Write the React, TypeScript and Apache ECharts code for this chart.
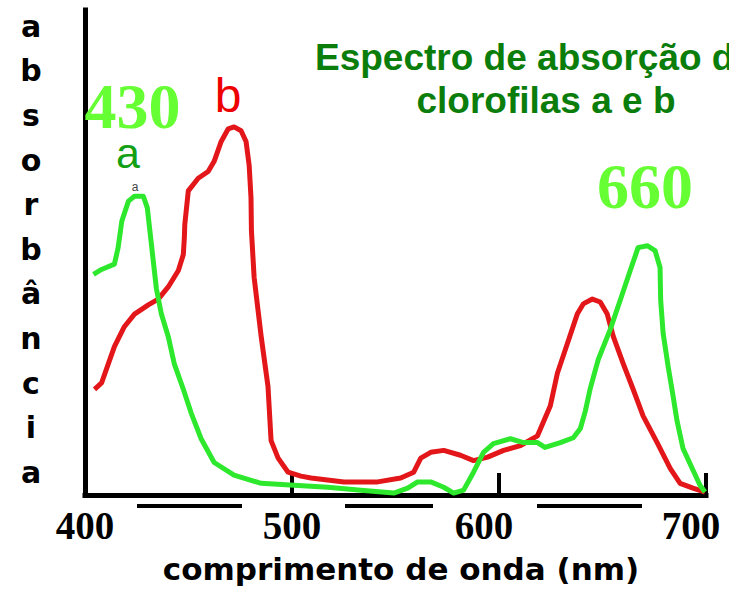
import { useEffect, useRef } from "react";
import * as echarts from "echarts";

// x axis ticks (nm)
const xTicks = [400, 500, 600, 700];

// Chlorophyll a (green) – wavelength (nm) and relative absorbance (0–100)
const chlA_nm = [
  404.1, 408.0, 414.2, 416.0, 417.8, 421.0, 423.9, 428.2, 430.1, 432.0, 434.5,
  436.9, 440.2, 443.1, 447.5, 451.3, 456.1, 462.4, 472.0, 485.1, 501.0, 517.3,
  533.3, 549.2, 555.9, 560.7, 567.0, 573.3, 578.1, 582.9, 587.7, 592.5, 597.3,
  605.5, 611.8, 618.6, 622.2, 629.6, 635.9, 639.3, 641.7, 644.1, 648.0, 653.7,
  658.6, 663.4, 667.2, 671.6, 675.4, 677.8, 678.1, 679.3, 681.7, 684.1, 686.0,
  688.9, 693.3, 697.1, 699.5,
];
const chlA_abs = [
  45.5, 46.5, 47.6, 51.0, 56.5, 60.6, 61.6, 61.6, 59.2, 52.0, 42.5,
  37.3, 32.7, 27.1, 21.8, 16.9, 11.6, 6.7, 4.1, 2.4, 2.0, 1.6,
  1.0, 0.4, 1.4, 2.7, 2.7, 1.6, 0.4, 1.0, 4.7, 8.8, 10.6,
  11.6, 10.8, 10.8, 9.8, 10.8, 11.8, 13.7, 17.3, 22.0, 28.0, 34.1,
  40.2, 46.3, 51.0, 51.4, 50.4, 46.9, 40.2, 33.3, 26.5, 20.4, 15.3,
  9.6, 5.5, 2.0, 0.6,
];

// Chlorophyll b (red)
const chlB_nm = [
  404.6, 408.0, 411.3, 414.2, 419.0, 423.9, 430.6, 435.4, 440.2, 445.1, 447.5,
  448.0, 448.2, 449.9, 454.7, 459.5, 462.4, 465.8, 469.2, 472.0, 475.4, 477.8,
  479.3, 480.2, 480.4, 481.7, 485.1, 488.4, 489.9, 493.3, 498.1, 504.3, 509.2,
  525.1, 541.4, 552.5, 558.8, 562.2, 567.0, 573.3, 581.4, 587.7, 594.5, 602.2,
  610.4, 618.6, 624.8, 628.2, 633.0, 637.8, 640.7, 645.1, 648.9, 652.3, 655.2,
  660.0, 664.8, 669.6, 676.4, 682.7, 687.5, 693.7, 699.5,
];
const chlB_abs = [
  21.8, 23.1, 27.1, 30.6, 34.7, 37.3, 39.2, 40.4, 42.9, 46.3, 49.6,
  53.1, 55.7, 62.7, 65.3, 66.7, 68.8, 72.9, 75.5, 75.9, 75.1, 72.9,
  68.0, 61.2, 54.5, 44.9, 32.7, 22.4, 11.2, 7.6, 4.7, 3.9, 3.5,
  2.7, 2.7, 3.5, 4.7, 7.6, 8.8, 9.2, 8.2, 7.1, 7.8, 9.2,
  10.2, 12.2, 18.4, 25.1, 31.2, 37.3, 39.4, 40.4, 39.8, 37.3, 32.7,
  27.1, 21.8, 16.3, 10.8, 5.5, 2.4, 1.4, 0.6,
];

const titleLines = ["Espectro de absorção d", "clorofilas a e b"];
const yAxisName = "absorbância";
const xAxisName = "comprimento de onda (nm)";
const peakLabels = ["430", "660"];
const curveLabels = ["a", "b"];

const GREEN = "#2ee82e";
const RED = "#e3161a";

export default function App() {
  const ref = useRef<HTMLDivElement>(null);

  useEffect(() => {
    const chart = echarts.init(ref.current!, null, { renderer: "svg" });

    const dataA = chlA_nm.map((x, i) => [x, chlA_abs[i]]);
    const dataB = chlB_nm.map((x, i) => [x, chlB_abs[i]]);

    const txt = (
      text: string,
      x: number,
      y: number,
      s: Record<string, any>,
      extra: Record<string, any> = {}
    ) => ({
      type: "text",
      x,
      y,
      z: 10,
      ...extra,
      style: {
        text,
        align: "center",
        textAlign: "center",
        verticalAlign: "middle",
        textVerticalAlign: "middle",
        ...s,
      },
    });

    const bars = [
      [137, 242],
      [345, 433],
      [537, 642],
    ];

    chart.setOption({
      animation: false,
      backgroundColor: "#ffffff",
      grid: { left: 85, right: 23, top: 10, bottom: 89 },
      xAxis: {
        type: "value",
        min: xTicks[0],
        max: xTicks[xTicks.length - 1],
        interval: 100,
        name: xAxisName,
        nameLocation: "middle",
        nameGap: 58,
        nameTextStyle: {
          fontFamily: "DejaVu Sans",
          fontWeight: "bold",
          fontSize: 31,
          color: "#000",
          padding: [0, 0, 0, 11],
        },
        axisLine: {
          show: true,
          lineStyle: { color: "#000", width: 5, cap: "square" },
        },
        axisTick: {
          show: true,
          inside: true,
          length: 22,
          lineStyle: { color: "#000", width: 4 },
        },
        splitLine: { show: false },
        axisLabel: {
          margin: 11,
          formatter: (v: number) =>
            v >= 600 ? `{s|${v}}` : `{n|${v}}`,
          rich: {
            n: {
              fontFamily: "Liberation Serif",
              fontWeight: "bold",
              fontSize: 39,
              color: "#000",
            },
            s: {
              fontFamily: "Liberation Serif",
              fontWeight: "bold",
              fontSize: 39,
              color: "#000",
              padding: [0, 30, 0, 0],
            },
          },
        },
      },
      yAxis: {
        type: "value",
        min: 0,
        max: 100,
        axisLine: {
          show: true,
          lineStyle: { color: "#000", width: 5, cap: "square" },
        },
        axisTick: { show: false },
        axisLabel: { show: false },
        splitLine: { show: false },
      },
      series: [
        {
          type: "line",
          data: dataB,
          showSymbol: false,
          symbol: "none",
          smooth: false,
          lineStyle: { color: RED, width: 5, join: "round" },
          z: 2,
        },
        {
          type: "line",
          data: dataA,
          showSymbol: false,
          symbol: "none",
          smooth: false,
          lineStyle: { color: GREEN, width: 5, join: "round" },
          z: 3,
        },
      ],
      graphic: [
        // vertical y-axis name
        txt(
          yAxisName.split("").join("\n"),
          31,
          4,
          {
            fontFamily: "DejaVu Sans",
            fontWeight: "bold",
            fontSize: 30,
            lineHeight: 44.6,
            fill: "#000",
            verticalAlign: "top",
            textVerticalAlign: "top",
          }
        ),
        // title
        txt(titleLines[0], 315, 57, {
          fontFamily: "Liberation Sans",
          fontWeight: "bold",
          fontSize: 37,
          fill: "#0b7d0b",
          align: "left",
          textAlign: "left",
        }),
        txt(titleLines[1], 546, 100, {
          fontFamily: "Liberation Sans",
          fontWeight: "bold",
          fontSize: 37,
          fill: "#0b7d0b",
        }),
        // peak labels
        txt(peakLabels[0], 132.5, 106, {
          fontFamily: "Liberation Serif",
          fontWeight: "bold",
          fontSize: 64,
          fill: "#66ff33",
        }),
        txt(peakLabels[1], 645, 186, {
          fontFamily: "Liberation Serif",
          fontWeight: "bold",
          fontSize: 64,
          fill: "#66ff33",
        }),
        // curve labels
        txt(curveLabels[0], 128, 153, {
          fontFamily: "Liberation Sans",
          fontSize: 43,
          fill: "#14a014",
        }),
        txt(curveLabels[1], 228, 95, {
          fontFamily: "Liberation Sans",
          fontSize: 48,
          fill: "#ee0000",
        }),
        txt(curveLabels[0], 135, 187, {
          fontFamily: "Liberation Sans",
          fontSize: 12,
          fill: "#444",
        }),
        // thick marks under the x axis
        ...bars.map(([a, b]) => ({
          type: "rect",
          z: 5,
          shape: { x: a, y: 504, width: b - a, height: 4 },
          style: { fill: "#000" },
        })),
      ],
    });

    return () => chart.dispose();
  }, []);

  return (
    <div
      ref={ref}
      style={{ position: "absolute", left: 0, top: 0, width: 729, height: 589 }}
    />
  );
}
